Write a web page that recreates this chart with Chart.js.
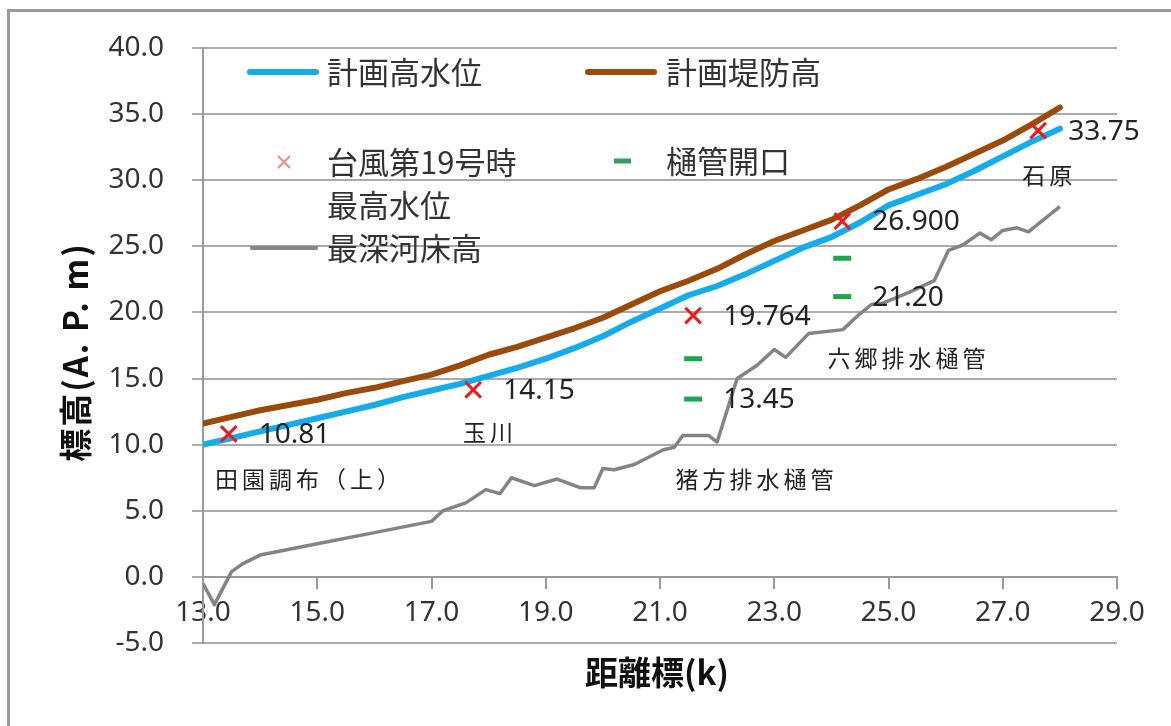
<!DOCTYPE html>
<html>
<head>
<meta charset="utf-8">
<script src="https://cdn.jsdelivr.net/npm/chart.js@4.4.1/dist/chart.umd.min.js"></script>
<style>
  html, body { margin: 0; padding: 0; background: #fff; }
  #wrap { width: 1171px; height: 726px; }
</style>
</head>
<body>
<div id="wrap"><canvas id="chart" width="1171" height="726"></canvas></div>
<script>
// 距離標 (k) and elevations (A.P. m)
var planKm = [13.0, 13.5, 14.0, 14.5, 15.0, 15.5, 16.0, 16.5, 17.0, 17.5, 18.0, 18.5, 19.0, 19.5, 20.0, 20.5,
              21.0, 21.5, 22.0, 22.5, 23.0, 23.5, 24.0, 24.5, 25.0, 25.5, 26.0, 26.5, 27.0, 27.5, 28.0];
var planFloodLevel = [10.0, 10.5, 11.0, 11.5, 12.0, 12.5, 13.0, 13.6, 14.1, 14.6, 15.2, 15.8, 16.5, 17.3, 18.2, 19.3,
                      20.3, 21.3, 22.0, 22.9, 23.9, 24.9, 25.7, 26.8, 28.1, 28.9, 29.7, 30.7, 31.8, 32.9, 33.9];
var planLeveeHeight = [11.6, 12.1, 12.6, 13.0, 13.4, 13.9, 14.3, 14.8, 15.3, 16.0, 16.8, 17.4, 18.1, 18.8, 19.6, 20.6,
                       21.6, 22.4, 23.3, 24.4, 25.4, 26.2, 27.0, 28.1, 29.3, 30.1, 31.0, 32.0, 33.0, 34.2, 35.5];

var bedKm = [13.0, 13.2, 13.5, 13.7, 14.0, 15.0, 16.0, 17.0, 17.2, 17.6, 17.95, 18.2, 18.4, 18.8, 19.2, 19.6,
             19.85, 20.0, 20.2, 20.55, 21.05, 21.25, 21.4, 21.85, 22.0, 22.35, 22.7, 23.0, 23.2, 23.6, 24.2, 24.5,
             24.7, 24.9, 25.35, 25.8, 26.05, 26.3, 26.6, 26.8, 27.0, 27.25, 27.45, 27.65, 28.0];
var deepestBed = [-0.5, -2.1, 0.4, 1.0, 1.65, 2.5, 3.35, 4.2, 5.0, 5.6, 6.6, 6.3, 7.5, 6.9, 7.4, 6.75,
                  6.75, 8.2, 8.1, 8.5, 9.6, 9.8, 10.7, 10.7, 10.2, 15.0, 16.0, 17.2, 16.6, 18.4, 18.7, 19.9,
                  20.6, 20.7, 21.5, 22.4, 24.7, 25.1, 26.0, 25.5, 26.2, 26.4, 26.1, 26.8, 28.0];

var typhoonKm = [13.45, 17.73, 21.58, 24.19, 27.62];
var typhoonMax = [10.81, 14.15, 19.764, 26.900, 33.75];
var typhoonText = ['10.81', '14.15', '19.764', '26.900', '33.75'];

var gateKm = [21.58, 21.58, 24.19, 24.19];
var gateOpening = [16.5, 13.45, 24.1, 21.20];
var gateText = ['', '13.45', '', '21.20'];

var placeNames = ['田園調布（上）', '玉川', '猪方排水樋管', '六郷排水樋管', '石原'];
var placeKm = [13.21, 17.55, 21.27, 23.93, 27.34];
var placeLevel = [7.35, 10.95, 7.35, 16.5, 30.4];

var xTicks = [13.0, 29.0, 2.0];
var yTicks = [-5.0, 40.0, 5.0];

function toPoints(xs, ys) {
    var pts = [];
    for (var i = 0; i < xs.length; i++) {
        pts.push({x: xs[i], y: ys[i]});
    }
    return pts;
}

var sansFont = '"Noto Sans CJK JP", "Noto Sans", sans-serif';
var numFont = '"Noto Sans", "Open Sans", sans-serif';

var decorPlugin = {
    id: 'decor',
    beforeDraw: function (chart) {
        var ctx = chart.ctx;
        ctx.save();
        ctx.fillStyle = '#fff';
        ctx.fillRect(0, 0, chart.width, chart.height);
        ctx.strokeStyle = '#9a9a9a';
        ctx.lineWidth = 3;
        ctx.beginPath();
        ctx.moveTo(8.5, chart.height);
        ctx.lineTo(8.5, 10.5);
        ctx.lineTo(chart.width, 10.5);
        ctx.stroke();
        ctx.restore();
    },
    afterDatasetsDraw: function (chart) {
        var ctx = chart.ctx;
        var xs = chart.scales.x, ys = chart.scales.y;
        var i;
        ctx.save();
        ctx.fillStyle = '#222';
        ctx.textBaseline = 'middle';
        ctx.textAlign = 'left';

        // value labels beside the markers
        ctx.font = '28px ' + numFont;
        for (i = 0; i < typhoonKm.length; i++) {
            ctx.fillText(typhoonText[i], xs.getPixelForValue(typhoonKm[i]) + 30, ys.getPixelForValue(typhoonMax[i]) + 1);
        }
        for (i = 0; i < gateKm.length; i++) {
            if (gateText[i]) {
                ctx.fillText(gateText[i], xs.getPixelForValue(gateKm[i]) + 30, ys.getPixelForValue(gateOpening[i]) + 1);
            }
        }

        // place names
        ctx.font = '23px ' + sansFont;
        ctx.letterSpacing = '4px';
        for (i = 0; i < placeNames.length; i++) {
            ctx.fillText(placeNames[i], xs.getPixelForValue(placeKm[i]), ys.getPixelForValue(placeLevel[i]));
        }
        ctx.letterSpacing = '0px';

        // legend
        ctx.lineCap = 'round';
        ctx.lineWidth = 6;
        ctx.strokeStyle = '#14acea';
        ctx.beginPath(); ctx.moveTo(250, 72); ctx.lineTo(316, 72); ctx.stroke();
        ctx.strokeStyle = '#9a4b0c';
        ctx.beginPath(); ctx.moveTo(588, 72); ctx.lineTo(654, 72); ctx.stroke();
        ctx.lineWidth = 4;
        ctx.strokeStyle = '#848484';
        ctx.beginPath(); ctx.moveTo(252, 248); ctx.lineTo(316, 248); ctx.stroke();
        ctx.lineCap = 'butt';
        ctx.lineWidth = 2;
        ctx.strokeStyle = '#f08a8a';
        ctx.beginPath();
        ctx.moveTo(278, 156); ctx.lineTo(290, 168);
        ctx.moveTo(290, 156); ctx.lineTo(278, 168);
        ctx.stroke();
        ctx.lineWidth = 5;
        ctx.strokeStyle = '#3c9a64';
        ctx.beginPath(); ctx.moveTo(614, 161); ctx.lineTo(631, 161); ctx.stroke();

        ctx.fillStyle = '#333';
        ctx.font = '31px ' + sansFont;
        ctx.fillText('計画高水位', 327, 72);
        ctx.fillText('計画堤防高', 666, 72);
        ctx.fillText('台風第19号時', 327, 162);
        ctx.fillText('最高水位', 327, 205);
        ctx.fillText('樋管開口', 666, 161);
        ctx.fillText('最深河床高', 327, 248);

        // axis titles
        ctx.fillStyle = '#111';
        ctx.font = 'bold 33px ' + sansFont;
        ctx.textAlign = 'center';
        ctx.fillText('距離標(k)', 657, 672);
        ctx.translate(75, 352);
        ctx.rotate(-Math.PI / 2);
        ctx.letterSpacing = '2px';
        ctx.fillText('標高(A. P. m)', 0, 0);
        ctx.restore();
    }
};

var ctx = document.getElementById('chart').getContext('2d');
var chart = new Chart(ctx, {
    type: 'scatter',
    data: {
        datasets: [{
            label: '台風第19号時最高水位',
            data: toPoints(typhoonKm, typhoonMax),
            pointStyle: 'crossRot',
            pointRadius: 11,
            pointBorderWidth: 3,
            borderColor: '#f01818',
            backgroundColor: '#f01818'
        }, {
            label: '樋管開口',
            data: toPoints(gateKm, gateOpening),
            pointStyle: 'line',
            pointRadius: 9,
            pointBorderWidth: 5,
            borderColor: '#1aa84c',
            backgroundColor: '#1aa84c'
        }, {
            label: '計画堤防高',
            data: toPoints(planKm, planLeveeHeight),
            showLine: true,
            pointRadius: 0,
            borderWidth: 6,
            borderColor: '#9a4b0c',
            borderCapStyle: 'round',
            borderJoinStyle: 'round'
        }, {
            label: '計画高水位',
            data: toPoints(planKm, planFloodLevel),
            showLine: true,
            pointRadius: 0,
            borderWidth: 6,
            borderColor: '#14acea',
            borderCapStyle: 'round',
            borderJoinStyle: 'round'
        }, {
            label: '最深河床高',
            data: toPoints(bedKm, deepestBed),
            showLine: true,
            pointRadius: 0,
            borderWidth: 3.5,
            borderColor: '#848484',
            borderJoinStyle: 'round'
        }]
    },
    options: {
        responsive: false,
        animation: false,
        layout: {padding: {left: 0, top: 48, right: 54, bottom: 83}},
        plugins: {
            legend: {display: false},
            tooltip: {enabled: false}
        },
        scales: {
            x: {
                type: 'linear',
                position: {y: 0},
                min: xTicks[0],
                max: xTicks[1],
                ticks: {
                    stepSize: xTicks[2],
                    padding: 8,
                    color: '#333',
                    font: {family: numFont, size: 28},
                    maxRotation: 0,
                    callback: function (v) { return v.toFixed(1); }
                },
                grid: {drawOnChartArea: false, color: '#9a9a9a', lineWidth: 2, tickLength: 11},
                border: {color: '#9a9a9a', width: 2}
            },
            y: {
                type: 'linear',
                position: 'left',
                min: yTicks[0],
                max: yTicks[1],
                afterFit: function (scale) { scale.width = 203; },
                ticks: {
                    stepSize: yTicks[2],
                    padding: 28,
                    color: '#333',
                    font: {family: numFont, size: 28},
                    callback: function (v) { return v.toFixed(1); }
                },
                grid: {color: '#ababab', lineWidth: 2, tickLength: 11},
                border: {color: '#9a9a9a', width: 2}
            }
        }
    },
    plugins: [decorPlugin]
});
</script>
</body>
</html>
